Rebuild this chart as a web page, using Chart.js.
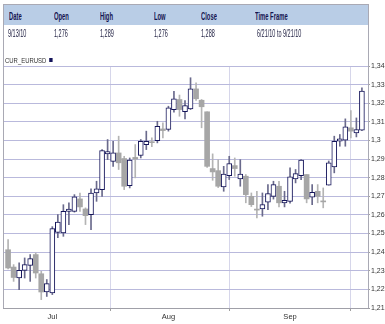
<!DOCTYPE html>
<html><head><meta charset="utf-8">
<script src="https://cdn.jsdelivr.net/npm/chart.js@4/dist/chart.umd.min.js"></script>
<style>
html,body{margin:0;padding:0;background:#fff;width:385px;height:324px;overflow:hidden}
#wrap{position:relative;width:385px;height:324px}
#c{position:absolute;left:0;top:0}
#box{position:absolute;left:3px;top:4px;width:364px;height:303px;border:1px solid #a9a9b4;border-bottom:none}
#hdr{position:absolute;left:4px;top:5px;width:364px;height:20px;background:#b9cde6}
.t{position:absolute;font-family:'Liberation Sans',Arial,sans-serif;white-space:nowrap;color:#1a1a4a;transform-origin:0 0}
.h{font-size:11px;line-height:11px;font-weight:bold;top:10.7px;transform:scaleX(0.53);color:#141450}
.v{font-size:10px;line-height:10px;top:28.8px;transform:scaleX(0.55);color:#222244}
#leg{position:absolute;left:5px;top:57px;font-family:'Liberation Sans',Arial,sans-serif;font-size:7px;line-height:8px;color:#333;transform:scaleX(0.85);transform-origin:0 0;white-space:nowrap}
#leg span{display:inline-block;width:4px;height:4px;background:#14145a;margin-left:3px;vertical-align:1px}
</style></head><body>
<div id="wrap">
<canvas id="c" width="385" height="324"></canvas>
<div id="box"></div>
<div id="hdr"></div>
<div class="t h" style="left:9px">Date</div>
<div class="t h" style="left:54px">Open</div>
<div class="t h" style="left:100px">High</div>
<div class="t h" style="left:154px">Low</div>
<div class="t h" style="left:201px">Close</div>
<div class="t h" style="left:255px">Time Frame</div>
<div class="t v" style="left:8px">9/13/10</div>
<div class="t v" style="left:54px">1,276</div>
<div class="t v" style="left:100px">1,289</div>
<div class="t v" style="left:154px">1,276</div>
<div class="t v" style="left:201px">1,288</div>
<div class="t v" style="left:256.5px">6/21/10 to</div>
<div class="t v" style="left:283px">9/21/10</div>
<div id="leg">CUR_EURUSD<span></span></div>
</div>
<script>
// ---- data (EUR/USD daily, 6/21/10 - 9/21/10) ----
const opens  = [1.2413,1.2320,1.2261,1.2302,1.2329,1.2387,1.2284,1.2186,1.2181,1.2506,
                1.2503,1.2619,1.2619,1.2686,1.2632,1.2602,1.2718,1.2736,1.2928,1.2888,
                1.2933,1.2903,1.2757,1.2909,1.2919,1.2978,1.2992,1.2999,1.3062,1.3059,
                1.3166,1.3220,1.3154,1.3170,1.3277,1.3216,1.3154,1.2849,1.2838,1.2751,
                1.2811,1.2865,1.2794,1.2808,1.2700,1.2629,1.2632,1.2668,1.2700,1.2754,
                1.2665,1.2673,1.2794,1.2811,1.2817,1.2695,1.2727,1.2673,1.2760,1.2858,
                1.2996,1.3001,1.3068,1.3041,1.3055];
const highs  = [1.2467,1.2333,1.2342,1.2369,1.2387,1.2396,1.2297,1.2253,1.2537,1.2602,
                1.2655,1.2665,1.2709,1.2718,1.2638,1.2740,1.2781,1.2951,1.3005,1.2996,
                1.3023,1.2915,1.2906,1.2978,1.3005,1.3050,1.3014,1.3103,1.3095,1.3184,
                1.3264,1.3244,1.3214,1.3337,1.3310,1.3220,1.3154,1.2928,1.2897,1.2861,
                1.2915,1.2906,1.2897,1.2817,1.2718,1.2727,1.2718,1.2763,1.2781,1.2781,
                1.2727,1.2853,1.2844,1.2897,1.2817,1.2763,1.2763,1.2745,1.2890,1.3023,
                1.3032,1.3116,1.3161,1.3121,1.3283];
const lows   = [1.2310,1.2243,1.2198,1.2261,1.2243,1.2261,1.2145,1.2162,1.2172,1.2478,
                1.2485,1.2548,1.2615,1.2619,1.2548,1.2521,1.2673,1.2700,1.2897,1.2861,
                1.2844,1.2736,1.2745,1.2799,1.2906,1.2951,1.2966,1.2987,1.3014,1.3050,
                1.3152,1.3130,1.3116,1.3166,1.3215,1.3068,1.2855,1.2786,1.2747,1.2727,
                1.2790,1.2808,1.2754,1.2665,1.2645,1.2584,1.2593,1.2628,1.2685,1.2643,
                1.2643,1.2663,1.2772,1.2790,1.2665,1.2655,1.2665,1.2638,1.2760,1.2826,
                1.2969,1.2969,1.3014,1.3019,1.3052];
const closes = [1.2315,1.2264,1.2302,1.2333,1.2365,1.2288,1.2186,1.2231,1.2526,1.2562,
                1.2619,1.2632,1.2697,1.2643,1.2596,1.2718,1.2740,1.2946,1.2940,1.2933,
                1.2880,1.2754,1.2894,1.2900,1.2996,1.2996,1.2988,1.3076,1.3053,1.3175,
                1.3224,1.3166,1.3187,1.3277,1.3224,1.3181,1.2861,1.2831,1.2754,1.2820,
                1.2876,1.2849,1.2820,1.2709,1.2655,1.2626,1.2655,1.2714,1.2763,1.2665,
                1.2678,1.2804,1.2822,1.2894,1.2686,1.2722,1.2700,1.2670,1.2880,1.2996,
                1.3009,1.3073,1.3050,1.3059,1.3265];
const monthIdx = [8, 29, 51];
const monthLabels = ['Jul', 'Aug', 'Sep'];
const yTicks = [1.21,1.22,1.23,1.24,1.25,1.26,1.27,1.28,1.29,1.30,1.31,1.32,1.33,1.34];
const yTickLabels = ['1,21','1,22','1,23','1,24','1,25','1,26','1,27','1,28','1,29','1,3','1,31','1,32','1,33','1,34'];

const NAVY = '#14145a';
const up = opens.map((o,i)=>closes[i] >= o);
const bodies = opens.map((o,i)=>({x:i, y:[o, closes[i]]}));
const wicks = opens.map((o,i)=>({x:i, y:[lows[i], highs[i]]}));
const FONT = "'Liberation Sans',Arial,sans-serif";

new Chart(document.getElementById('c'), {
  type: 'bar',
  data: {
    datasets: [
      { label:'body', data: bodies, order: 0, grouped: false,
        barThickness: 5, minBarLength: 1, borderSkipped: false,
        backgroundColor: up.map(u => u ? '#ffffff' : '#a6a6a6'),
        borderColor: up.map(u => u ? NAVY : '#a6a6a6'),
        borderWidth: up.map(u => u ? 1 : 0) },
      { label:'wick', data: wicks, order: 1, grouped: false,
        barThickness: 1, borderWidth: 0,
        backgroundColor: up.map(u => u ? '#6a6a8c' : '#b4b4b4') }
    ]
  },
  options: {
    responsive: false, animation: false,
    layout: { padding: { top: 66, left: 3, right: 0, bottom: 0 } },
    plugins: { legend: { display: false }, tooltip: { enabled: false } },
    scales: {
      x: {
        type: 'linear', min: -0.92, max: 65.1, offset: false,
        afterBuildTicks: s => { s.ticks = monthIdx.map(v => ({ value: v })); },
        afterFit: s => { s.height = 16; },
        ticks: { autoSkip: false, maxRotation: 0, padding: 1, color: '#333',
          font: { family: FONT, size: 7.5 },
          callback: v => monthLabels[monthIdx.indexOf(v)] },
        grid: { color: '#d6d6ea', lineWidth: 1, tickLength: 3, tickColor: '#a0a0a0' },
        border: { color: '#a0a0a8', width: 1 }
      },
      y: {
        type: 'linear', position: 'right', min: 1.21, max: 1.34,
        afterBuildTicks: s => { s.ticks = yTicks.map(v => ({ value: v })); },
        afterFit: s => { s.width = 17; },
        ticks: { padding: 1, color: '#333', font: { family: FONT, size: 7 },
          callback: v => yTickLabels[yTicks.findIndex(t => Math.abs(t - v) < 1e-6)] },
        grid: { color: '#b9b9dc', lineWidth: 1, tickLength: 2, tickColor: '#a0a0a0' },
        border: { color: '#a0a0a8', width: 1 }
      }
    }
  }
});
</script>
</body></html>
